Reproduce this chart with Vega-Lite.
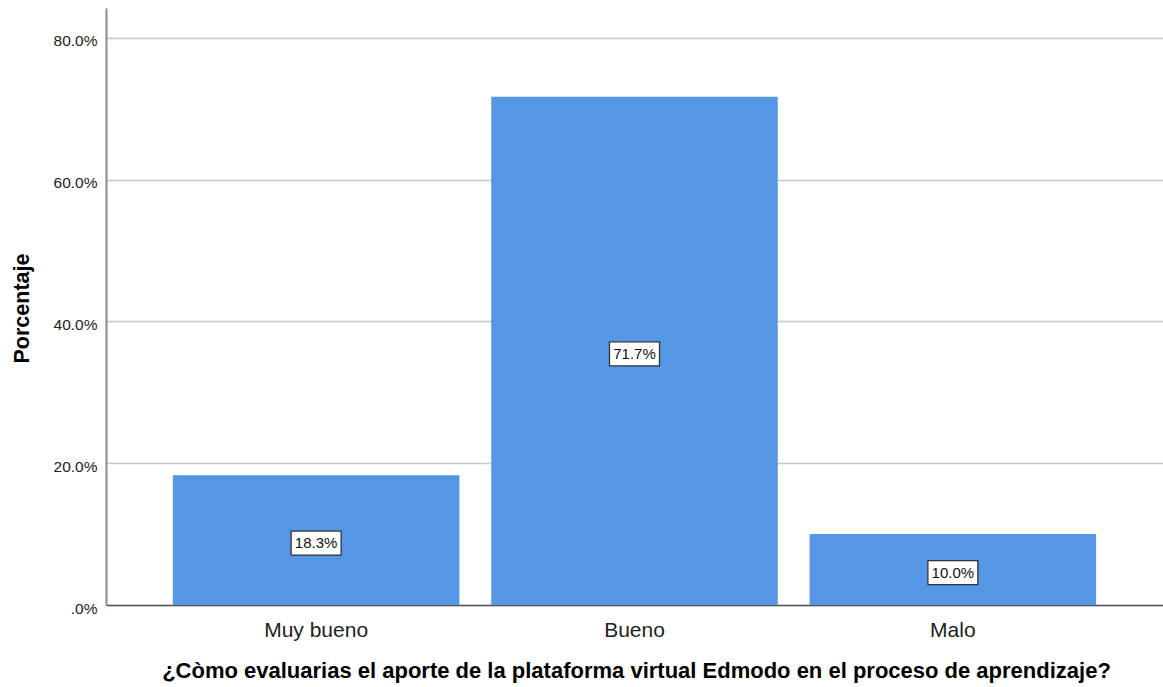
{
  "$schema": "https://vega.github.io/schema/vega-lite/v6.json",
  "autosize": "none",
  "width": 1057,
  "height": 597,
  "padding": {"left": 106, "top": 8, "right": 0, "bottom": 82},
  "background": "white",
  "config": {
    "view": {"stroke": null},
    "font": "Liberation Sans"
  },
  "data": {
    "values": [
      {"cat": "Muy bueno", "pct": 18.3},
      {"cat": "Bueno", "pct": 71.7},
      {"cat": "Malo", "pct": 10.0}
    ]
  },
  "transform": [
    {"calculate": "datum.pct / 2", "as": "mid"},
    {"calculate": "format(datum.pct, '.1f') + '%'", "as": "lab"}
  ],
  "encoding": {
    "x": {
      "field": "cat",
      "type": "nominal",
      "sort": ["Muy bueno", "Bueno", "Malo"],
      "scale": {"paddingInner": 0.1, "paddingOuter": 0.21},
      "axis": {
        "title": "¿Còmo evaluarias el aporte de la plataforma virtual  Edmodo en el proceso de aprendizaje?",
        "titleFont": "Liberation Sans",
        "titleFontSize": 22,
        "titleFontWeight": "bold",
        "titleColor": "#000000",
        "titleX": 530,
        "titleY": 65,
        "titleBaseline": "middle",
        "labelAngle": 0,
        "labelFontSize": 21,
        "labelColor": "#222222",
        "labelPadding": 14,
        "ticks": false,
        "domainColor": "#555555",
        "domainWidth": 1.5,
        "grid": false
      }
    }
  },
  "layer": [
    {
      "mark": {"type": "bar", "color": "#5596E5"},
      "encoding": {
        "y": {
          "field": "pct",
          "type": "quantitative",
          "scale": {"domain": [0, 84.2], "nice": false, "zero": true},
          "axis": {
            "title": "Porcentaje",
            "titleFontSize": 21.5,
            "titleFontWeight": "bold",
            "titleColor": "#000000",
            "titleAngle": -90,
            "titleX": -84,
            "titleY": 300,
            "titleAlign": "center",
            "titleBaseline": "middle",
            "values": [0, 20, 40, 60, 80],
            "labelExpr": "datum.value == 0 ? '.0%' : format(datum.value, '.1f') + '%'",
            "labelFontSize": 15.5,
            "labelColor": "#222222",
            "labelPadding": 9,
            "labelOffset": 3,
            "ticks": false,
            "domainColor": "#8a8a8a",
            "domainWidth": 2,
            "gridColor": "#c8c8c8",
            "gridWidth": 1.5
          }
        }
      }
    },
    {
      "mark": {
        "type": "point",
        "shape": "M-1,-0.48 L1,-0.48 L1,0.48 L-1,0.48 Z",
        "filled": true,
        "fill": "white",
        "stroke": "#333333",
        "strokeWidth": 1.3,
        "opacity": 1,
        "size": 2500,
        "yOffset": 3
      },
      "encoding": {
        "y": {"field": "mid", "type": "quantitative"}
      }
    },
    {
      "mark": {"type": "text", "fontSize": 15, "color": "#111111", "baseline": "middle", "align": "center", "yOffset": 3},
      "encoding": {
        "y": {"field": "mid", "type": "quantitative"},
        "text": {"field": "lab", "type": "nominal"}
      }
    }
  ]
}
